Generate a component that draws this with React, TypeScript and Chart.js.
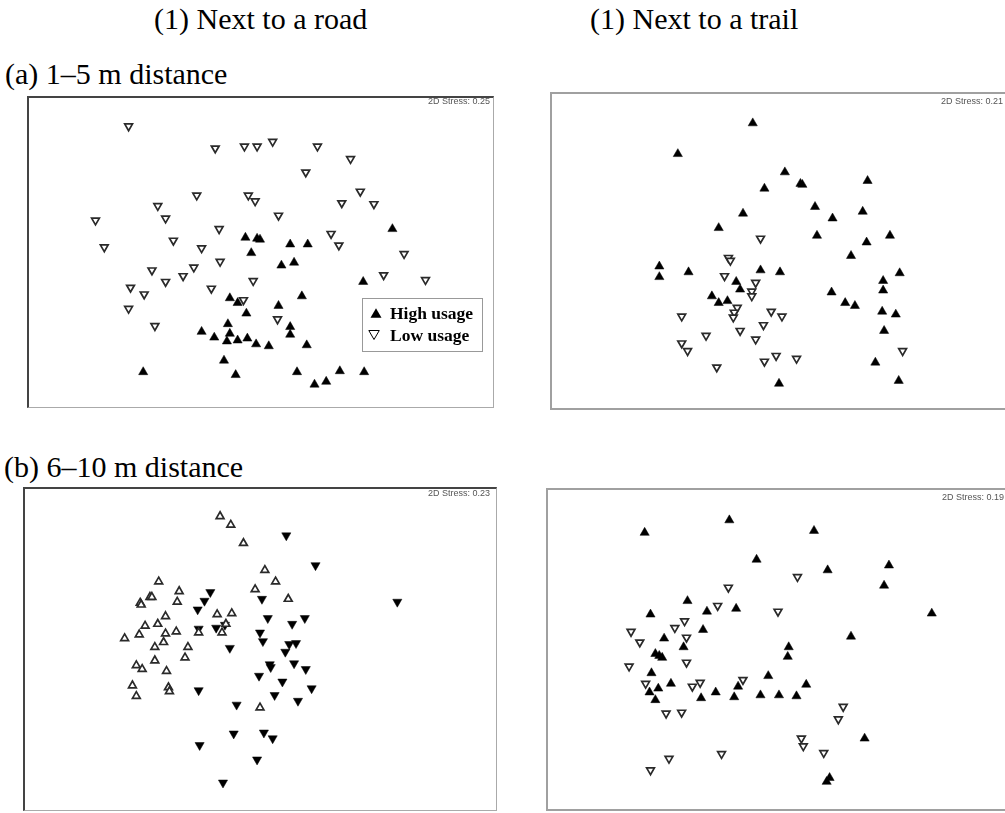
import React, { useEffect, useRef } from "react";
import { Chart, registerables } from "chart.js";
Chart.register(...registerables);

type P = [number, number];

// ---- Data (ordination scores, in figure units) ----
// (a) 1–5 m, next to a road
const roadNearHigh: P[] = [[245,237],[257,238],[260,239],[251,253],[291,244],[309,244],[282,266],[295,263],[396,228],[366,283],[303,298],[279,308],[229,300],[237,305],[246,316],[291,330],[291,338],[227,327],[200,335],[213,341],[229,337],[226,345],[237,344],[247,342],[256,348],[269,350],[308,349],[223,365],[235,380],[140,377],[298,377],[342,376],[367,377],[316,390],[328,387]];
const roadNearLow: P[] = [[125,121],[214,144],[244,142],[257,142],[273,137],[319,142],[353,155],[307,169],[195,193],[248,193],[255,199],[155,204],[163,217],[91,219],[100,247],[218,228],[171,240],[200,248],[219,262],[149,271],[192,268],[181,277],[163,283],[127,289],[141,296],[125,311],[210,290],[253,282],[243,302],[152,329],[363,189],[344,201],[377,202],[279,214],[333,233],[341,245],[408,254],[387,276],[430,281],[278,322]];
// (a) 1–5 m, next to a trail
const trailNearHigh: P[] = [[752,118],[675,150],[764,186],[742,212],[717,227],[656,267],[656,278],[686,273],[760,271],[780,273],[735,283],[739,291],[710,298],[717,305],[726,303],[779,389],[785,169],[801,181],[803,182],[870,178],[816,205],[834,217],[865,210],[818,235],[869,242],[893,235],[853,256],[903,274],[886,282],[886,292],[833,294],[847,305],[857,308],[885,314],[899,317],[887,334],[878,367],[902,386]];
const trailNearLow: P[] = [[760,238],[727,258],[729,261],[723,277],[755,284],[751,293],[751,298],[736,310],[733,315],[732,320],[679,319],[771,314],[782,319],[763,328],[739,334],[704,339],[755,343],[679,347],[685,355],[715,372],[764,366],[776,360],[797,363],[906,355]];
// (b) 6–10 m, next to a road
const roadFarHigh: P[] = [[209,590],[203,599],[196,608],[197,628],[215,627],[224,624],[229,648],[197,692],[236,707],[233,737],[198,749],[257,764],[222,788],[287,531],[317,562],[401,600],[262,597],[268,617],[293,623],[306,617],[260,632],[263,641],[290,644],[297,643],[286,652],[270,665],[271,668],[295,664],[307,670],[259,677],[283,683],[313,690],[275,697],[299,703],[264,736],[273,742]];
const roadFarLow: P[] = [[219,511],[230,520],[243,539],[156,579],[177,589],[175,600],[137,601],[138,603],[147,595],[149,595],[163,615],[142,625],[155,623],[121,638],[136,634],[163,633],[174,631],[161,642],[152,647],[186,647],[183,658],[152,661],[133,666],[139,670],[164,672],[129,687],[133,698],[166,689],[167,693],[197,632],[216,613],[231,612],[225,623],[221,632],[255,587],[265,567],[276,579],[289,597],[260,710]];
// (b) 6–10 m, next to a trail
const trailFarHigh: P[] = [[728,515],[641,528],[756,556],[685,599],[647,613],[705,610],[735,607],[701,629],[661,638],[681,647],[652,654],[656,656],[659,658],[648,674],[668,685],[655,690],[646,694],[652,702],[699,700],[714,694],[733,699],[737,688],[760,697],[768,677],[779,697],[815,526],[829,567],[892,562],[887,583],[936,612],[853,636],[789,647],[788,657],[807,686],[797,698],[867,742],[828,787],[831,783]];
const trailFarLow: P[] = [[727,585],[716,604],[778,610],[682,620],[672,627],[684,637],[627,631],[636,642],[684,663],[625,667],[642,685],[690,688],[698,684],[742,681],[663,716],[679,715],[720,758],[666,763],[647,775],[798,574],[845,709],[840,722],[802,742],[804,750],[825,757]];

const stressLabels = ["2D Stress: 0.25", "2D Stress: 0.21", "2D Stress: 0.23", "2D Stress: 0.19"];
const columnTitles = ["(1) Next to a road", "(1) Next to a trail"];
const rowTitles = ["(a) 1–5 m distance", "(b) 6–10 m distance"];
const legendLabels = ["High usage", "Low usage"];

type Box = { x0: number; x1: number; y0: number; y1: number };

interface PanelProps {
  box: Box;
  high: P[];
  low: P[];
  highRot: number;
  lowRot: number;
  border: React.CSSProperties;
}

function Panel({ box, high, low, highRot, lowRot, border }: PanelProps) {
  const ref = useRef<HTMLCanvasElement>(null);
  const w = box.x1 - box.x0;
  const h = box.y1 - box.y0;
  useEffect(() => {
    if (!ref.current) return;
    const chart = new Chart(ref.current, {
      type: "scatter",
      data: {
        datasets: [
          {
            label: legendLabels[1],
            data: low.map(([x, y]) => ({ x, y })),
            pointStyle: "triangle",
            pointRotation: lowRot,
            pointRadius: 4.5,
            pointBorderWidth: 1.7,
            pointBackgroundColor: "#ffffff",
            pointBorderColor: "#2a2a2a",
            showLine: false,
          } as any,
          {
            label: legendLabels[0],
            data: high.map(([x, y]) => ({ x, y })),
            pointStyle: "triangle",
            pointRotation: highRot,
            pointRadius: 5.3,
            pointBorderWidth: 0.5,
            pointBackgroundColor: "#000000",
            pointBorderColor: "#000000",
            showLine: false,
          } as any,
        ],
      },
      options: {
        responsive: false,
        maintainAspectRatio: false,
        animation: false,
        events: [],
        layout: { padding: 0 },
        plugins: { legend: { display: false }, tooltip: { enabled: false } },
        scales: {
          x: { type: "linear", display: false, min: box.x0, max: box.x1 },
          y: { type: "linear", display: false, min: box.y0, max: box.y1, reverse: true },
        },
      },
    });
    return () => chart.destroy();
  }, []);
  return (
    <>
      <canvas
        ref={ref}
        width={w}
        height={h}
        style={{ position: "absolute", left: box.x0, top: box.y0, width: w, height: h }}
      />
      <div
        style={{
          position: "absolute",
          left: box.x0,
          top: box.y0,
          width: w,
          height: h,
          boxSizing: "border-box",
          pointerEvents: "none",
          ...border,
        }}
      />
    </>
  );
}

const darkBorder: React.CSSProperties = {
  borderTop: "2px solid #444",
  borderLeft: "2px solid #444",
  borderRight: "1px solid #aaa",
  borderBottom: "1px solid #aaa",
};
const greyBorder: React.CSSProperties = { border: "2px solid #a0a0a0" };

const serif = "'Liberation Serif', 'Times New Roman', serif";
const sans = "'Liberation Sans', Arial, sans-serif";

const titleStyle = (left: number, top: number): React.CSSProperties => ({
  position: "absolute",
  left,
  top,
  fontFamily: serif,
  fontSize: 30,
  lineHeight: "30px",
  whiteSpace: "nowrap",
  color: "#000",
});

const stressStyle = (pos: React.CSSProperties): React.CSSProperties => ({
  position: "absolute",
  fontFamily: sans,
  fontSize: 9,
  lineHeight: "9px",
  color: "#555",
  whiteSpace: "nowrap",
  ...pos,
});

const legendText = (top: number): React.CSSProperties => ({
  position: "absolute",
  left: 27,
  top,
  fontFamily: serif,
  fontWeight: "bold",
  fontSize: 17.5,
  lineHeight: "17.5px",
  whiteSpace: "nowrap",
});

export default function App() {
  return (
    <div
      style={{
        position: "absolute",
        left: 0,
        top: 0,
        width: 1005,
        height: 813,
        overflow: "hidden",
        background: "#fff",
      }}
    >
      <div style={titleStyle(154, 4)}>{columnTitles[0]}</div>
      <div style={titleStyle(590, 4)}>{columnTitles[1]}</div>
      <div style={titleStyle(5, 59)}>{rowTitles[0]}</div>
      <div style={titleStyle(4, 452)}>{rowTitles[1]}</div>

      <Panel box={{ x0: 27, x1: 494, y0: 96, y1: 408 }} high={roadNearHigh} low={roadNearLow} highRot={0} lowRot={180} border={darkBorder} />
      <Panel box={{ x0: 550, x1: 1010, y0: 92, y1: 410 }} high={trailNearHigh} low={trailNearLow} highRot={0} lowRot={180} border={greyBorder} />
      <Panel box={{ x0: 23, x1: 497, y0: 487, y1: 811 }} high={roadFarHigh} low={roadFarLow} highRot={180} lowRot={0} border={darkBorder} />
      <Panel box={{ x0: 546, x1: 1010, y0: 488, y1: 811 }} high={trailFarHigh} low={trailFarLow} highRot={0} lowRot={180} border={greyBorder} />

      <div style={stressStyle({ right: 1005 - 490, top: 97, textAlign: "right" })}>{stressLabels[0]}</div>
      <div style={stressStyle({ left: 941, top: 97 })}>{stressLabels[1]}</div>
      <div style={stressStyle({ right: 1005 - 490, top: 489, textAlign: "right" })}>{stressLabels[2]}</div>
      <div style={stressStyle({ left: 942, top: 493 })}>{stressLabels[3]}</div>

      {/* Legend of panel (a)(1) */}
      <div
        style={{
          position: "absolute",
          left: 362,
          top: 298,
          width: 121,
          height: 54,
          boxSizing: "border-box",
          border: "1px solid #999",
          background: "#fff",
        }}
      >
        <svg width={121} height={54} style={{ position: "absolute", left: -1, top: -1 }}>
          <polygon points="8.5,19.8 19.5,19.8 14,10.3" fill="#000" />
          <polygon points="6.8,32.5 17.3,32.5 12,41.5" fill="#fff" stroke="#000" strokeWidth={1} />
        </svg>
        <div style={legendText(6)}>{legendLabels[0]}</div>
        <div style={legendText(28)}>{legendLabels[1]}</div>
      </div>
    </div>
  );
}
